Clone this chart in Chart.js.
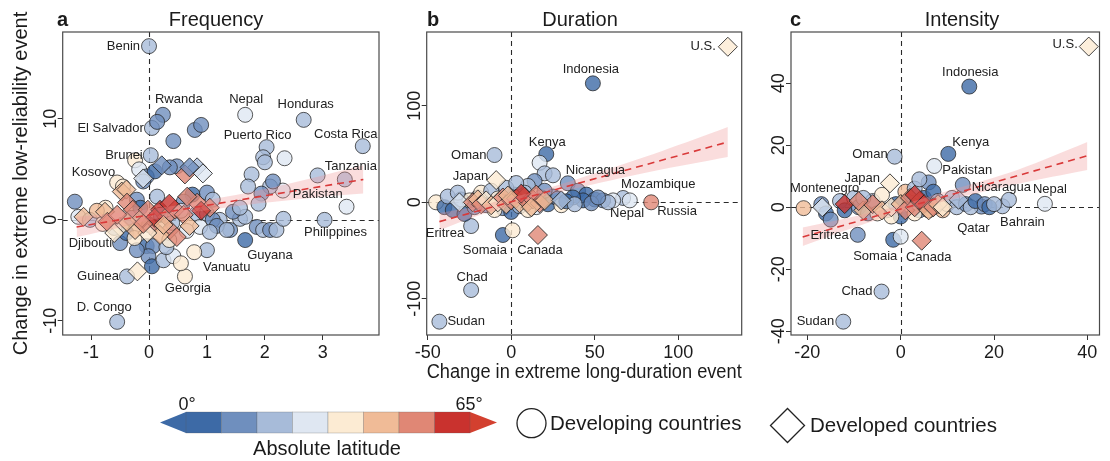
<!DOCTYPE html>
<html>
<head>
<meta charset="utf-8">
<script src="https://cdn.jsdelivr.net/npm/chart.js@4/dist/chart.umd.min.js"></script>
<style>
  html, body { margin: 0; padding: 0; background: #fff; }
  #wrap { position: relative; width: 1110px; height: 461px; overflow: hidden; }
  #wrap canvas, #wrap svg { position: absolute; left: 0; top: 0; }
</style>
</head>
<body>
<div id="wrap">
  <canvas id="freq" width="1110" height="461"></canvas>
  <canvas id="dur" width="1110" height="461"></canvas>
  <canvas id="int" width="1110" height="461"></canvas>
  <svg id="legend" width="1110" height="461" xmlns="http://www.w3.org/2000/svg"></svg>
</div>
<script>
// ---------------------------------------------------------------------------
// Colour bins for absolute latitude, 0° to 65° in eight steps
const latitudeColours = ['#3d6aa6', '#6f8fbe', '#a7bbd9', '#dfe7f2', '#fcebd3', '#f0bb97', '#e08775', '#c9322e'];

// ---- a: Frequency --- [x change, y change, latitude bin]
const freqDeveloping = [
  [0, 17.2, 2], [0.24, 10.4, 1], [0.05, 9.1, 2], [1.66, 10.4, 3], [2.67, 9.9, 2], [2.03, 7.2, 2],
  [3.69, 7.3, 2], [0.03, 6.4, 2], [-0.55, 3.7, 4], [3.38, 4.0, 2], [2.31, 2.9, 3], [3.03, 0, 2],
  [-0.5, -2.3, 1], [1.66, -2.0, 0], [1.0, -3.0, 2], [-0.38, -5.6, 2], [0.62, -5.6, 4], [-0.55, -10.1, 2],
  [0.14, 9.7, 1], [0.42, 7.8, 1], [0.79, 8.9, 1], [0.9, 9.4, 1], [1.97, 6.2, 2], [2.0, 5.7, 2],
  [2.34, 6.1, 3], [-0.24, 5.9, 4], [-0.17, 5.0, 3], [0.48, 5.3, 1], [-0.04, 4.3, 1], [0.1, 4.8, 0],
  [0.36, 5.2, 1], [-0.45, 3.3, 4], [-0.1, 3.8, 1], [0.14, 2.3, 2], [-0.21, 2.0, 1], [0.75, 2.5, 0],
  [1.0, 2.7, 1], [1.1, 2.0, 2], [0.6, 1.8, 1], [1.77, 4.5, 2], [1.71, 3.3, 2], [2.09, 3.3, 2],
  [2.14, 3.8, 1], [1.94, 2.6, 1], [1.89, 1.6, 2], [2.91, 4.4, 2], [3.41, 1.3, 3], [-1.28, 1.8, 1],
  [-1.22, 0.3, 3], [-1.02, 0, 2], [-0.75, 1.2, 4], [-0.9, 0.9, 5], [-0.39, -1.3, 0], [-0.6, -0.8, 2],
  [-0.04, -2.6, 0], [0.07, -2.6, 1], [-0.01, -3.6, 1], [0.05, -4.6, 0], [-0.21, -3.0, 1], [0.25, -4.0, 2],
  [0.42, -3.6, 3], [0.3, -2.7, 2], [0.78, -3.2, 4], [0.55, -4.3, 4], [1.22, 0, 2], [1.4, -1.0, 1],
  [1.57, 0.1, 2], [1.66, 0.3, 2], [1.86, -0.7, 1], [1.97, -1.0, 2], [2.09, -1.0, 1], [2.2, -1.0, 2],
  [2.32, 0.1, 2], [0.82, 0.6, 2], [1.0, 0.6, 2], [1.1, 0, 1], [0.88, -0.7, 3], [1.17, -0.6, 1],
  [1.05, -1.2, 2], [1.34, -1.0, 2], [1.45, 0.8, 1], [0.2, 0.5, 1], [0.4, -0.3, 2], [-0.3, 0.2, 1],
  [0, -0.5, 2], [-0.15, 1.2, 0], [0.55, 0.9, 3], [0.65, -1.1, 3], [-0.8, -0.4, 4], [-0.25, -1.8, 4],
  [0.35, -2.0, 4], [1.57, 1.2, 2]
];
const freqDeveloped = [
  [-1.13, 0.3, 5], [-0.76, 0.8, 5], [-0.7, -0.3, 5], [-0.47, 2.8, 5], [-0.39, 3.0, 5], [-0.38, 1.7, 6],
  [-0.28, 1.0, 6], [-0.16, 0, 5], [-0.02, 1.0, 6], [0.05, -0.7, 6], [0.19, 1.0, 7], [0.3, 0.3, 6],
  [0.36, -1.0, 6], [0.45, 1.0, 6], [0.19, -1.5, 5], [-0.03, -1.3, 4], [-0.24, -1.0, 5], [-0.5, -0.7, 4],
  [-0.72, -0.2, 6], [-0.38, -0.2, 5], [0.83, 1.7, 6], [1.05, 1.2, 6], [0.83, 5.2, 2], [0.93, 4.6, 3],
  [0.66, 2.3, 6], [0.48, -1.7, 6], [0.62, 4.5, 6], [0.22, 5.4, 1], [0.7, 5.2, 1], [-0.1, 4.1, 3],
  [-0.2, -5.1, 4], [-0.55, 0.5, 6], [0.1, 0.2, 7], [0.6, 0.5, 6], [0.25, -0.5, 5], [-0.1, -0.4, 6],
  [0.7, -0.6, 5], [-0.6, -1.3, 4], [0.9, 0.9, 7], [0.35, 1.6, 7]
];
const freqFit = [[-1.25, -0.7], [3.7, 4.0]];
const freqBand = [[-1.25, -1.7, 0.3], [-0.5, -0.75, 0.7], [0, -0.05, 1.05], [0.5, 0.5, 1.45], [1, 0.95, 1.95],
  [1.5, 1.35, 2.45], [2, 1.7, 3.05], [2.5, 2.0, 3.7], [3, 2.3, 4.4], [3.7, 2.6, 5.4]];
const freqLabels = [
  ['Benin', 0, 17.2], ['Rwanda', 0.24, 10.4], ['El Salvador', 0.05, 9.1], ['Nepal', 1.66, 10.4],
  ['Honduras', 2.67, 9.9], ['Puerto Rico', 2.03, 7.2], ['Costa Rica', 3.69, 7.3], ['Brunei', 0.03, 6.4],
  ['Kosovo', -0.55, 3.7], ['Tanzania', 3.38, 4.0], ['Pakistan', 2.31, 2.9], ['Philippines', 3.03, 0],
  ['Djibouti', -0.5, -2.3], ['Guyana', 1.66, -2.0], ['Vanuatu', 1.0, -3.0], ['Guinea', -0.38, -5.6],
  ['Georgia', 0.62, -5.6], ['D. Congo', -0.55, -10.1]
];
const freqLimitsX = [-1.49, 3.97];
const freqLimitsY = [-11.4, 18.6];
const freqTicksX = [-1, 0, 1, 2, 3];
const freqTicksY = [-10, 0, 10];

// ---- b: Duration ---
const durDeveloping = [
  [48.9, 123.3, 0], [-10, 49, 2], [21, 50, 0], [33.9, 19.7, 1], [67, 4.5, 2], [61, 2, 3], [83.8, 0, 6],
  [-24, -24.6, 2], [-5, -33.9, 0], [-24, -90.9, 2], [-43, -123.7, 2],
  [17, 41, 3], [20, 30, 2], [25, 28, 2], [14, 22, 1], [10, 17, 2], [40, 12, 1], [45, 8, 0], [50, 3, 0],
  [55, 2, 1], [43, 2, 0], [37, 5, 0], [71, 2, 3], [0.8, -29, 4], [-45, 0, 4], [-40, -5, 0], [-38, 6, 2],
  [-35, -8, 0], [-30, 3, 1], [-28, -12, 0], [-20, 5, 2], [-15, -3, 1], [-25, 2, 4], [-18, 10, 4],
  [-12, 12, 2], [-8, 4, 4], [-5, -6, 1], [0, -10, 0], [2, 8, 1], [5, -4, 2], [8, 10, 2], [12, 3, 1],
  [15, -5, 3], [18, 5, 2], [22, -2, 0], [25, 6, 1], [28, 4, 1], [30, -3, 4], [33, 1, 0], [-3, 15, 2],
  [3, 20, 2], [-32, 10, 2], [-10, -8, 4], [10, -8, 4], [20, 12, 1], [-22, -5, 1], [38, -2, 2],
  [48, -1, 1], [58, 0, 2], [52, 5, 1]
];
const durDeveloped = [
  [129.7, 161.2, 4], [-9, 23, 4], [16, -33.9, 6], [-31, 0, 3], [-23, 0, 6], [-20, 3, 5], [-18, -2, 6],
  [-15, 2, 4], [-12, -3, 5], [-8, 0, 4], [-5, 5, 6], [-3, -2, 5], [0, 2, 6], [3, 4, 6], [5, -1, 5],
  [8, 6, 6], [10, 0, 6], [13, 3, 6], [15, 8, 6], [17, -1, 6], [20, 2, 5], [6, 9, 7], [-2, 7, 5],
  [30, 2, 2], [12, -5, 5]
];
const durFit = [[-43, -20], [129.7, 62.5]];
const durBand = [[-43, -29, -11], [-20, -14, -4], [0, -3.5, 5], [20, 6.5, 13.5], [50, 19, 30], [90, 34, 53], [129.7, 47, 78]];
const durLabels = [
  ['U.S.', 129.7, 161.2], ['Indonesia', 48.9, 123.3], ['Oman', -10, 49], ['Kenya', 21, 50], ['Japan', -9, 23],
  ['Nicaragua', 33.9, 19.7], ['Mozambique', 67, 4.5], ['Nepal', 61, 2], ['Russia', 83.8, 0],
  ['Eritrea', -24, -24.6], ['Somaia', -5, -33.9], ['Canada', 16, -33.9], ['Chad', -24, -90.9], ['Sudan', -43, -123.7]
];
const durLimitsX = [-50.6, 138];
const durLimitsY = [-137.5, 176.5];
const durTicksX = [-50, 0, 50, 100];
const durTicksY = [-100, 0, 100];

// ---- c: Intensity ---
const intDeveloping = [
  [14.7, 38.9, 0], [-1.3, 16.3, 2], [10.2, 17.2, 0], [7.2, 13.3, 3], [-20.8, -0.3, 5], [13.3, 7.2, 1],
  [30.9, 1.1, 3], [21.8, 0.3, 2], [17.3, 0.2, 1], [-9.2, -8.9, 1], [-1.6, -10.5, 0], [-4.1, -27.2, 2],
  [-12.3, -36.9, 2], [0, -9.5, 3], [23.2, 2.4, 2],
  [-17, 1, 1], [-16, -2, 0], [-15, -4, 1], [-13, 2, 2], [-12, -1, 0], [-10, 3, 2], [-9, 0, 1],
  [-7, -2, 1], [-6, 2, 2], [-4, 4, 4], [-3, -1, 2], [-1, 1, 0], [0, -3, 0], [1, 5, 5], [2, 2, 1],
  [3, 6, 2], [4, -1, 1], [5, 3, 0], [6, 8, 1], [7, 5, 0], [8, 2, 2], [9, -1, 5], [10, 1, 5],
  [11, 3, 2], [12, 0, 2], [14, 1, 1], [15, 0, 2], [16, 2, 0], [18, 1, 1], [19, 0, 0], [20, 1, 2],
  [-2, -3, 4], [3, -2, 4], [-5, -2, 4], [6, -1, 5], [4, 9, 2], [-8, 3, 2]
];
const intDeveloped = [
  [40.3, 51.8, 4], [-2.3, 7.7, 4], [4.5, -10.8, 6], [-16.8, 0, 3], [-12, 1, 7], [-8, -1, 5], [-6, 1, 6],
  [-4, -1, 5], [-2, 0, 4], [0, 1, 5], [1, -1, 6], [2, 3, 6], [3, 0, 6], [4, 2, 6], [5, 1, 7],
  [6, -1, 5], [7, 0, 6], [8, 1, 5], [9, 0, 4], [12.4, 2.4, 2], [-9, 2, 6], [3, 4, 7]
];
const intFit = [[-21, -9.6], [40, 16.6]];
const intBand = [[-21, -12.5, -6.5], [-10, -6.5, -3], [0, -1.8, 0.7], [10, 2.2, 5.2], [25, 7.5, 12], [40, 12, 21]];
const intLabels = [
  ['U.S.', 40.3, 51.8], ['Indonesia', 14.7, 38.9], ['Oman', -1.3, 16.3], ['Kenya', 10.2, 17.2],
  ['Pakistan', 7.2, 13.3], ['Japan', -2.3, 7.7], ['Montenegro', -20.8, -0.3], ['Nicaragua', 13.3, 7.2],
  ['Nepal', 30.9, 1.1], ['Bahrain', 21.8, 0.3], ['Qatar', 17.3, 0.2], ['Eritrea', -9.2, -8.9],
  ['Somaia', -1.6, -10.5], ['Canada', 4.5, -10.8], ['Chad', -4.1, -27.2], ['Sudan', -12.3, -36.9]
];
const intLimitsX = [-23.5, 42.6];
const intLimitsY = [-41.2, 56.5];
const intTicksX = [-20, 0, 20, 40];
const intTicksY = [-40, -20, 0, 20, 40];

// ---------------------------------------------------------------------------
// Where each country name sits relative to its marker: [align, dx px, dy px]
const labelPlacement = {
  freq: {
    'Benin': ['right', -9, 0], 'Rwanda': ['left', -8, -15], 'El Salvador': ['right', -8, 0],
    'Nepal': ['center', 1, -15], 'Honduras': ['center', 2, -15], 'Puerto Rico': ['center', -9, -12],
    'Costa Rica': ['center', -17, -12], 'Brunei': ['right', -8, 0], 'Kosovo': ['right', -2, -10],
    'Tanzania': ['left', -20, -13], 'Pakistan': ['left', 10, 4], 'Philippines': ['center', 11, 13],
    'Djibouti': ['right', -8, 0], 'Guyana': ['left', 2, 15], 'Vanuatu': ['left', -4, 17],
    'Guinea': ['right', -8, 0], 'Georgia': ['center', 3, 12], 'D. Congo': ['center', -13, -14]
  },
  dur: {
    'U.S.': ['right', -12, 0], 'Indonesia': ['center', -2, -14], 'Oman': ['right', -8, 0],
    'Kenya': ['center', 1, -12], 'Japan': ['right', -8, -4], 'Nicaragua': ['left', -2, -13],
    'Mozambique': ['left', -2, -14], 'Nepal': ['center', 14, 13], 'Russia': ['left', 6, 9],
    'Eritrea': ['right', -7, 7], 'Somaia': ['center', -18, 15], 'Canada': ['center', 2, 15],
    'Chad': ['center', 1, -13], 'Sudan': ['left', 8, 0]
  },
  int: {
    'U.S.': ['right', -11, -2], 'Indonesia': ['center', 1, -14], 'Oman': ['right', -7, -2],
    'Kenya': ['left', 4, -11], 'Pakistan': ['left', 8, 4], 'Japan': ['right', -10, -5],
    'Montenegro': ['center', 21, -20], 'Nicaragua': ['left', 9, 3], 'Nepal': ['center', 5, -14],
    'Bahrain': ['center', 20, 16], 'Qatar': ['center', -8, 22], 'Eritrea': ['right', -9, 1],
    'Somaia': ['center', -18, 17], 'Canada': ['center', 7, 17], 'Chad': ['right', -9, 0], 'Sudan': ['right', -9, 0]
  }
};

const FONT = "'Liberation Sans', Arial, Helvetica, sans-serif";
const INK = '#1b1b1b';

function withAlpha(hex, a) {
  const n = parseInt(hex.slice(1), 16);
  return `rgba(${n >> 16},${(n >> 8) & 255},${n & 255},${a})`;
}

// Panel frames on the shared 1110 x 461 page
const panels = [
  { key: 'freq', letter: 'a', title: 'Frequency', box: { l: 62.7, t: 32, r: 379, b: 335 }, letterX: 57, titleX: 216,
    developing: freqDeveloping, developed: freqDeveloped, fit: freqFit, band: freqBand, labels: freqLabels,
    limX: freqLimitsX, limY: freqLimitsY, ticksX: freqTicksX, ticksY: freqTicksY,
    yTitle: 'Change in extreme low-reliability event' },
  { key: 'dur', letter: 'b', title: 'Duration', box: { l: 426.7, t: 32, r: 741.7, b: 335 }, letterX: 427, titleX: 580,
    developing: durDeveloping, developed: durDeveloped, fit: durFit, band: durBand, labels: durLabels,
    limX: durLimitsX, limY: durLimitsY, ticksX: durTicksX, ticksY: durTicksY,
    xTitle: 'Change in extreme long-duration event' },
  { key: 'int', letter: 'c', title: 'Intensity', box: { l: 791, t: 32, r: 1105, b: 335 }, letterX: 790, titleX: 962,
    developing: intDeveloping, developed: intDeveloped, fit: intFit, band: intBand, labels: intLabels,
    limX: intLimitsX, limY: intLimitsY, ticksX: intTicksX, ticksY: intTicksY }
];

// Frame, zero reference lines, rotated y tick labels, panel headings, country names
const panelDecor = {
  id: 'panelDecor',
  beforeDatasetsDraw(chart, args, opts) {
    const { ctx, chartArea: a, scales: { x, y } } = chart;
    ctx.save();
    ctx.beginPath();
    ctx.rect(a.left, a.top, a.right - a.left, a.bottom - a.top);
    ctx.clip();
    ctx.strokeStyle = '#2a2a2a';
    ctx.lineWidth = 1.1;
    ctx.setLineDash([5, 4]);
    const y0 = Math.round(y.getPixelForValue(0)) + 0.5;
    const x0 = Math.round(x.getPixelForValue(0)) + 0.5;
    ctx.beginPath();
    ctx.moveTo(a.left, y0); ctx.lineTo(a.right, y0);
    ctx.moveTo(x0, a.top); ctx.lineTo(x0, a.bottom);
    ctx.stroke();
    ctx.restore();
  },
  afterDatasetsDraw(chart, args, opts) {
    const { ctx, chartArea: a, scales: { x, y } } = chart;
    const p = opts.panel;
    ctx.save();
    // frame
    ctx.strokeStyle = '#4a4a4a';
    ctx.lineWidth = 1.2;
    ctx.strokeRect(a.left, a.top, a.right - a.left, a.bottom - a.top);
    // y tick labels, parallel to the axis
    ctx.fillStyle = INK;
    ctx.font = `18px ${FONT}`;
    ctx.textAlign = 'center';
    ctx.textBaseline = 'alphabetic';
    y.ticks.forEach(t => {
      const py = y.getPixelForValue(t.value);
      ctx.save();
      ctx.translate(a.left - 7, py);
      ctx.rotate(-Math.PI / 2);
      ctx.fillText(String(t.value), 0, 0);
      ctx.restore();
    });
    // panel letter and title
    ctx.textAlign = 'left';
    ctx.font = `bold 20px ${FONT}`;
    ctx.fillText(p.letter, p.letterX, 26);
    ctx.textAlign = 'center';
    ctx.font = `20px ${FONT}`;
    ctx.fillText(p.title, p.titleX, 26);
    // country names
    ctx.font = `13px ${FONT}`;
    ctx.fillStyle = '#222';
    ctx.textBaseline = 'middle';
    const place = labelPlacement[p.key];
    p.labels.forEach(([name, vx, vy]) => {
      const [align, dx, dy] = place[name];
      ctx.textAlign = align;
      ctx.fillText(name, x.getPixelForValue(vx) + dx, y.getPixelForValue(vy) + dy);
    });
    ctx.restore();
  }
};

function buildPanel(p) {
  const yTitleW = p.yTitle ? 57.7 : 0;
  const xTitleH = p.xTitle ? 53 : 26;
  const pts = list => list.map(([vx, vy]) => ({ x: vx, y: vy }));
  const fills = list => list.map(d => withAlpha(latitudeColours[d[2]], 0.8));
  return new Chart(document.getElementById(p.key), {
    type: 'scatter',
    data: {
      datasets: [
        { type: 'line', data: p.band.map(([bx, lo, hi]) => ({ x: bx, y: hi })), fill: '+1',
          backgroundColor: 'rgba(240,150,150,0.32)', borderWidth: 0, pointRadius: 0, tension: 0.35, order: 2 },
        { type: 'line', data: p.band.map(([bx, lo]) => ({ x: bx, y: lo })), fill: false,
          borderWidth: 0, pointRadius: 0, tension: 0.35, order: 2 },
        { type: 'line', data: pts(p.fit), borderColor: '#d93a3a', borderWidth: 1.6, borderDash: [7, 5],
          pointRadius: 0, fill: false, order: 1 },
        { data: pts(p.developed), pointStyle: 'rectRot', pointRadius: 9.5, backgroundColor: fills(p.developed),
          borderColor: 'rgba(35,35,35,0.85)', borderWidth: 1, order: 3, clip: false },
        { data: pts(p.developing), pointStyle: 'circle', pointRadius: 7.5, backgroundColor: fills(p.developing),
          borderColor: 'rgba(35,35,35,0.75)', borderWidth: 1, order: 4, clip: false }
      ]
    },
    options: {
      responsive: false,
      animation: false,
      events: [],
      layout: { padding: { left: p.box.l - yTitleW, top: p.box.t, right: 1110 - p.box.r, bottom: 461 - p.box.b - xTitleH } },
      plugins: { legend: { display: false }, tooltip: { enabled: false }, panelDecor: { panel: p } },
      scales: {
        x: {
          type: 'linear', min: p.limX[0], max: p.limX[1],
          afterBuildTicks: s => { s.ticks = p.ticksX.map(v => ({ value: v })); },
          afterFit: s => { s.height = xTitleH; },
          border: { display: false },
          grid: { display: true, drawOnChartArea: false, drawTicks: true, tickLength: 5, tickColor: '#333', tickWidth: 1 },
          ticks: { font: { family: FONT, size: 18 }, color: INK, padding: 2, maxRotation: 0, autoSkip: false,
                   callback: v => String(v) },
          title: { display: !!p.xTitle, text: p.xTitle || '', color: INK, font: { family: FONT, size: 20 },
                   padding: { top: 4, bottom: 4 } }
        },
        y: {
          type: 'linear', min: p.limY[0], max: p.limY[1],
          afterBuildTicks: s => { s.ticks = p.ticksY.map(v => ({ value: v })); },
          afterFit: s => { s.width = yTitleW; },
          border: { display: false },
          grid: { display: true, drawOnChartArea: false, drawTicks: true, tickLength: 5, tickColor: '#333', tickWidth: 1 },
          ticks: { display: false },
          title: { display: !!p.yTitle, text: p.yTitle || '', color: INK, font: { family: FONT, size: 20 },
                   padding: { top: 4, bottom: 4 } }
        }
      }
    },
    plugins: [panelDecor]
  });
}

panels.forEach(buildPanel);

// ---------------------------------------------------------------------------
// Colour bar and marker key
(function drawKey() {
  const svg = document.getElementById('legend');
  const NS = 'http://www.w3.org/2000/svg';
  const add = (tag, attrs, text) => {
    const e = document.createElementNS(NS, tag);
    Object.entries(attrs).forEach(([k, v]) => e.setAttribute(k, v));
    if (text) e.textContent = text;
    svg.appendChild(e);
    return e;
  };
  const barL = 186, barR = 470, barT = 412, barB = 433, mid = (barT + barB) / 2;
  const w = (barR - barL) / latitudeColours.length;
  add('polygon', { points: `160,${mid} ${barL},${barT} ${barL},${barB}`, fill: latitudeColours[0] });
  add('polygon', { points: `${barR},${barT} 497,${mid} ${barR},${barB}`, fill: '#d3402f' });
  latitudeColours.forEach((c, i) => {
    add('rect', { x: barL + i * w, y: barT, width: w, height: barB - barT, fill: c,
                  stroke: 'rgba(90,90,90,0.45)', 'stroke-width': 0.6 });
  });
  const txt = { 'font-family': "Liberation Sans, Arial, sans-serif", fill: INK };
  add('text', { ...txt, x: 187, y: 409.5, 'font-size': 18, 'text-anchor': 'middle' }, '0°');
  add('text', { ...txt, x: 469, y: 409.5, 'font-size': 18, 'text-anchor': 'middle' }, '65°');
  add('text', { ...txt, x: 327, y: 455, 'font-size': 20, 'text-anchor': 'middle' }, 'Absolute latitude');
  add('circle', { cx: 531.5, cy: 423.2, r: 14.5, fill: '#fff', stroke: '#222', 'stroke-width': 1.3 });
  add('text', { ...txt, x: 550, y: 429.5, 'font-size': 20.5 }, 'Developing countries');
  add('polygon', { points: '770.5,425.5 787.5,408.5 804.5,425.5 787.5,442.5', fill: '#fff', stroke: '#222', 'stroke-width': 1.3 });
  add('text', { ...txt, x: 810, y: 432, 'font-size': 20.5 }, 'Developed countries');
})();
</script>
</body>
</html>
